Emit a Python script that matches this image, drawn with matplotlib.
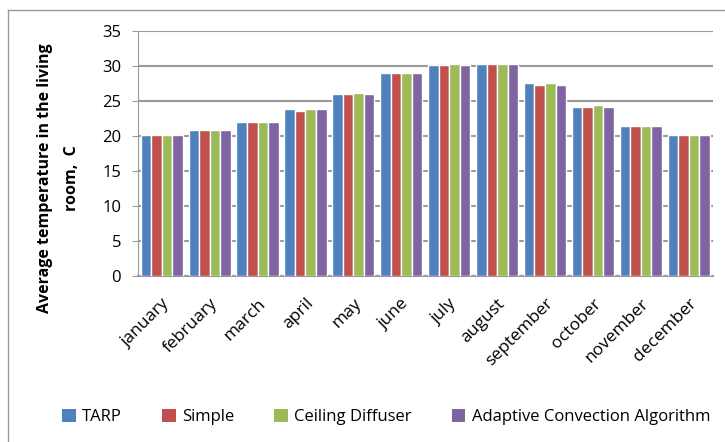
import matplotlib.pyplot as plt
import numpy as np
from matplotlib.patches import Patch
from matplotlib.lines import Line2D

# Données
months = ["january", "february", "march", "april", "may", "june",
          "july", "august", "september", "october", "november", "december"]
tarp = [20.1, 20.8, 22.0, 23.8, 26.0, 29.0, 30.1, 30.3, 27.5, 24.2, 21.4, 20.1]
simple = [20.1, 20.8, 22.0, 23.5, 26.0, 29.0, 30.1, 30.3, 27.3, 24.2, 21.4, 20.1]
ceiling = [20.1, 20.8, 22.0, 23.8, 26.2, 29.0, 30.3, 30.3, 27.5, 24.4, 21.4, 20.1]
adaptive = [20.1, 20.8, 22.0, 23.8, 26.0, 29.0, 30.1, 30.3, 27.3, 24.2, 21.4, 20.1]
series_names = ["TARP", "Simple", "Ceiling Diffuser", "Adaptive Convection Algorithm"]
colors = ["#4F81BD", "#C0504D", "#9BBB59", "#8064A2"]

plt.rcParams['font.family'] = ['Open Sans', 'DejaVu Sans']

fig = plt.figure(figsize=(7.25, 4.42), dpi=100)
ax = fig.add_axes([0.190, 0.3756, 0.793, 0.5544])

x = np.arange(len(months))
w = 0.22
for i, (vals, c) in enumerate(zip([tarp, simple, ceiling, adaptive], colors)):
    ax.bar(x + (i - 1.5) * w, vals, width=w, color=c, edgecolor="white",
           linewidth=1, zorder=3)

ax.set_xlim(-0.5, 11.5)
ax.set_ylim(0, 35)
ax.set_yticks(range(0, 36, 5))
ax.yaxis.grid(True, color="#999999", linewidth=1.5, zorder=0)
ax.set_xticks(x)
ax.set_xticklabels(months, rotation=45, ha="right", rotation_mode="anchor", fontsize=12.5)
ax.tick_params(axis="x", length=0, pad=14)
ax.tick_params(axis="y", labelsize=12, length=4, color="#999999", pad=8)
for s in ["top", "right"]:
    ax.spines[s].set_visible(False)
ax.spines["left"].set_color("#999999")
ax.spines["bottom"].set_color("#999999")
ax.spines["bottom"].set_linewidth(1.5)

fig.text(0.062, 0.597, "Average temperature in the living", rotation=90,
         ha="center", va="center", fontsize=11.5, fontweight="bold")
fig.text(0.099, 0.597, "room,  C", rotation=90,
         ha="center", va="center", fontsize=11.5, fontweight="bold")

handles = [Patch(facecolor=c, edgecolor="none") for c in colors]
fig.legend(handles, series_names, loc="center", bbox_to_anchor=(0.533, 0.056),
           ncol=4, frameon=False, fontsize=12, handlelength=0.8, handleheight=0.8,
           handletextpad=0.4, columnspacing=2.4)

# cadre extérieur
fig.add_artist(Line2D([0.011, 1.0], [0.977, 0.977], color="#999999", linewidth=1))
fig.add_artist(Line2D([0.011, 0.011], [0.0, 0.977], color="#999999", linewidth=1))

fig.savefig("out.png", dpi=100)
